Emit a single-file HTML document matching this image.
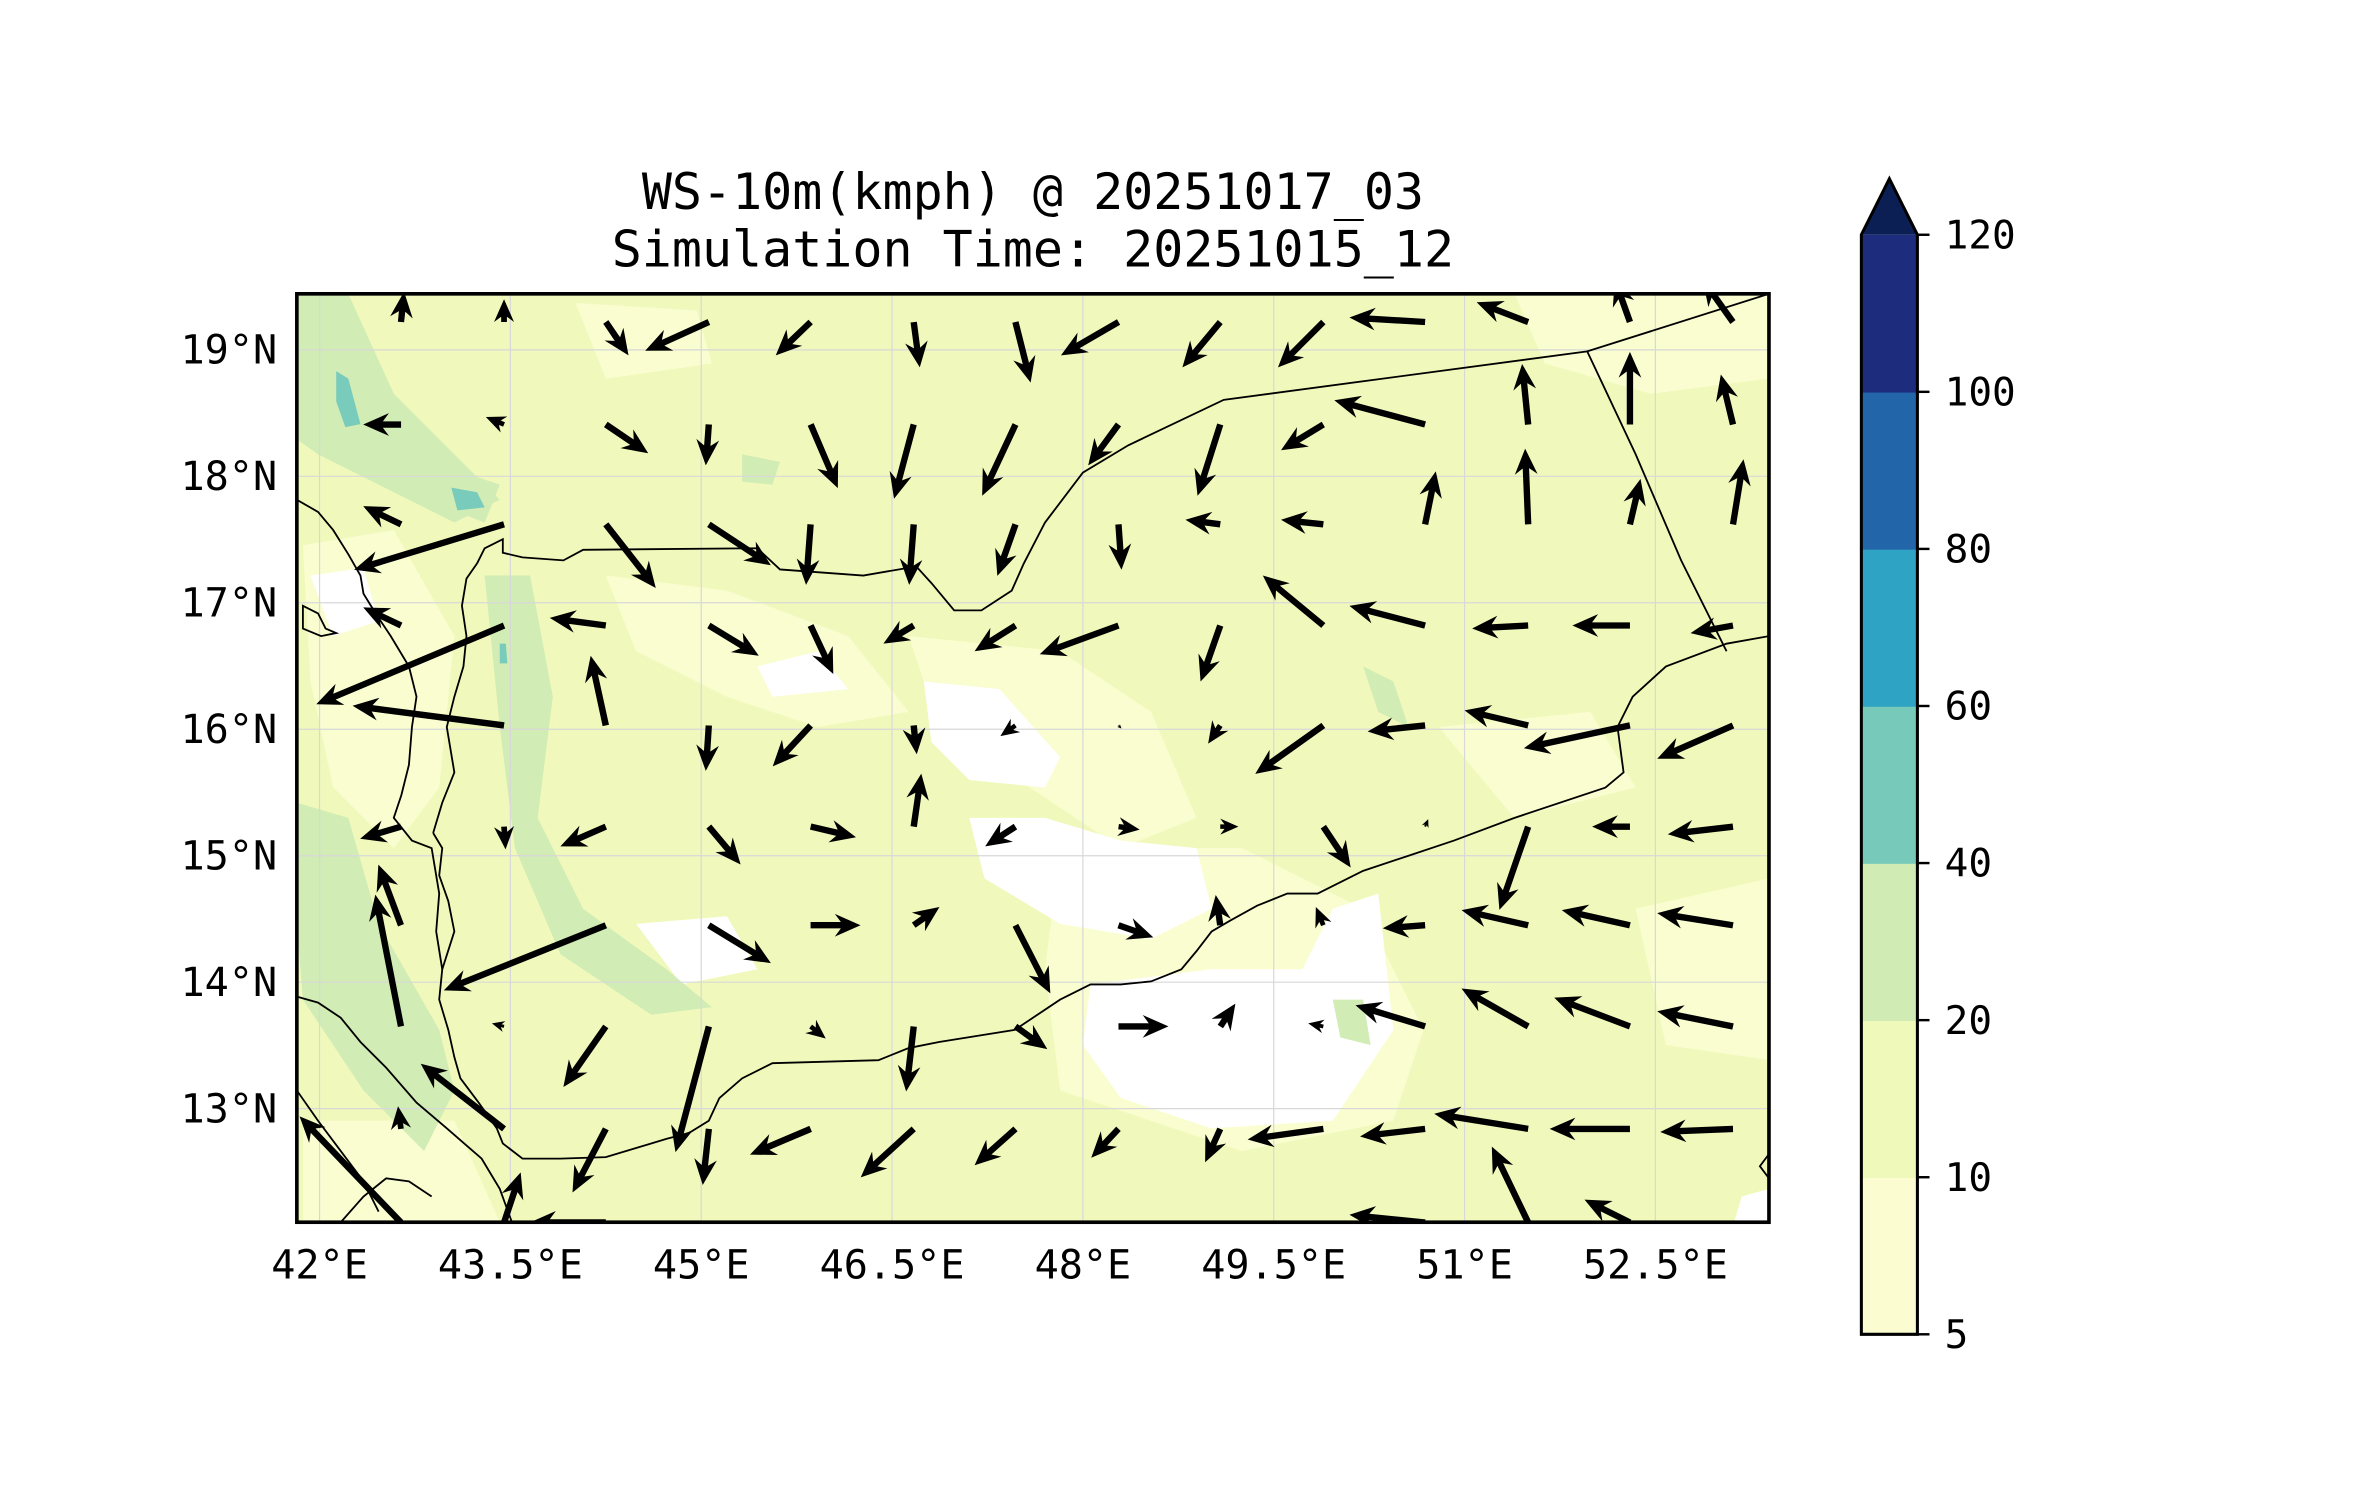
<!DOCTYPE html>
<html><head><meta charset="utf-8"><style>
html,body{margin:0;padding:0;background:#fff;}
svg{display:block;}
text{font-family:"DejaVu Sans Mono","Liberation Mono",monospace;fill:#000;}
</style></head><body>
<svg id="fig" width="2371" height="1500" viewBox="0 0 1565.5 990.4" xmlns="http://www.w3.org/2000/svg">
<defs><clipPath id="mapclip"><rect x="196" y="194" width="972" height="613"/></clipPath></defs>
<text x="682" y="138" font-size="33" text-anchor="middle">WS-10m(kmph) @ 20251017_03</text>
<text x="682" y="176" font-size="33" text-anchor="middle">Simulation Time: 20251015_12</text>
<g clip-path="url(#mapclip)">
<rect x="196" y="194" width="972" height="613" fill="#f0f9bb"/>
<g fill="#fafdd0">
<path d="M1000,194 L1168,194 L1168,250 L1090,260 L1020,240 Z"/>
<path d="M380,200 L460,205 L470,240 L400,250 Z"/>
<path d="M200,360 L260,350 L300,420 L290,520 L260,560 L220,520 L205,450 Z"/>
<path d="M400,380 L480,390 L560,420 L600,470 L540,480 L480,460 L420,430 Z"/>
<path d="M600,420 L700,430 L760,470 L790,540 L740,560 L680,520 L620,480 Z"/>
<path d="M700,560 L820,560 L900,600 L940,680 L920,740 L820,760 L700,720 L690,640 Z"/>
<path d="M950,480 L1050,470 L1080,520 L1000,540 Z"/>
<path d="M1080,600 L1168,580 L1168,700 L1100,690 Z"/>
<path d="M200,740 L300,740 L330,807 L200,807 Z"/>
</g>
<g fill="#ffffff">
<path d="M205,380 L240,375 L250,410 L220,420 Z"/>
<path d="M500,440 L540,430 L560,455 L510,460 Z"/>
<path d="M610,450 L660,455 L700,500 L690,520 L640,515 L615,490 Z"/>
<path d="M640,540 L690,540 L740,555 L790,560 L800,600 L760,620 L700,610 L650,580 Z"/>
<path d="M720,650 L800,640 L860,640 L880,600 L910,590 L920,680 L880,740 L800,745 L740,725 L715,690 Z"/>
<path d="M420,610 L480,605 L500,640 L450,650 Z"/>
<path d="M1150,790 L1168,785 L1168,807 L1145,807 Z"/>
</g>
<g fill="#d1ecb4">
<path d="M196,194 L230,194 L260,260 L330,330 L300,345 L250,320 L210,300 L196,290 Z"/>
<path d="M196,530 L230,540 L250,610 L290,680 L300,720 L280,760 L240,720 L200,660 L196,610 Z"/>
<path d="M320,380 L350,380 L365,460 L355,540 L385,600 L440,640 L470,665 L430,670 L370,630 L340,560 L330,480 Z"/>
<path d="M270,300 L330,320 L320,345 L280,330 Z"/>
<path d="M490,300 L515,305 L510,320 L490,318 Z"/>
<path d="M900,440 L920,450 L930,480 L910,470 Z"/>
<path d="M880,660 L900,660 L905,690 L885,685 Z"/>
</g>
<g fill="#79cbbb">
<path d="M222,245 L230,250 L238,280 L228,282 L222,265 Z"/>
<path d="M298,322 L315,325 L320,335 L302,337 Z"/>
<path d="M330,425 L334,425 L335,438 L330,438 Z"/>
</g>
<g id="grid" stroke="#d8d8d8" stroke-width="0.8" fill="none"></g>
<g fill="none" stroke="#000" stroke-width="1.2">
<path d="M196,330 L210,338 L220,350 L230,366 L238,380 L240,392 L248,405 L258,420 L270,440 L275,460 L272,480 L270,505 L265,525 L260,540 L272,555 L285,560 L290,590 L288,615 L292,640" />
<path d="M315,372 L320,362 L332,356 L332,365 L345,368 L372,370 L385,363 L500,362 L515,376 L570,380 L605,374 L615,385 L630,403 L648,403 L668,390 L676,372 L690,345 L715,312 L745,294 L808,264 L1048,232 L1168,194"/>
<path d="M1048,232 L1080,300 L1110,370 L1140,430"/>
<path d="M1168,420 L1140,425 L1100,440 L1078,460 L1068,480 L1072,510 L1060,520 L1000,540 L960,555 L930,565 L900,575 L870,590 L850,590 L830,598 L812,608 L800,615 L790,628 L780,640 L760,648 L740,650 L720,650 L700,660 L670,680 L620,688 L600,692 L580,700 L510,702 L490,712 L475,725 L468,740 L455,748 L440,752 L420,758 L400,764 L370,765 L345,765 L332,755 L328,745 L316,728 L304,712 L300,698 L296,680 L290,660 L292,640 L300,615 L296,595 L290,578 L292,560 L286,550"/>
<path d="M315,372 L308,382 L305,400 L308,420 L306,440 L300,460 L295,480 L300,510 L292,530 L286,550"/>
<path d="M196,658 L210,662 L225,672 L238,688 L255,705 L275,728 L295,745 L318,765 L330,785 L338,807"/>
<path d="M196,720 L210,740 L225,760 L240,780 L250,800"/>
<path d="M225,807 L240,790 L255,778 L270,780 L285,790"/>
<path d="M200,400 L210,405 L215,415 L222,418 L212,420 L200,415 Z"/>
<path d="M1168,762 L1162,770 L1168,778"/>
</g>
<g id="arrows" fill="#000"></g>
</g>
<rect x="196" y="194" width="972" height="613" fill="none" stroke="#000" stroke-width="2.4"/>
<g id="ticks"></g>
<g id="cbar"></g>
</svg>
<script>
// axis data
const lonTicks = [42, 43.5, 45, 46.5, 48, 49.5, 51, 52.5];
const lonLabels = ["42°E","43.5°E","45°E","46.5°E","48°E","49.5°E","51°E","52.5°E"];
const latTicks = [19, 18, 17, 16, 15, 14, 13];
const latLabels = ["19°N","18°N","17°N","16°N","15°N","14°N","13°N"];
// colorbar data
const cbLevels = [5, 10, 20, 40, 60, 80, 100, 120];
const cbColors = ["#fbfdd1","#eff9ba","#d0ecb4","#77c9b9","#2ea3c4","#2265a9","#1e2c7e"];
const cbExtendColor = "#0b1f55";
// quiver grid (lon/lat) and wind components
const gridLons = [42.64,43.45,44.25,45.06,45.86,46.67,47.47,48.28,49.08,49.89,50.69,51.5,52.3,53.11];
const gridLats = [19.22,18.41,17.62,16.82,16.03,15.23,14.45,13.65,12.84,12.1];
const uRows = [
[2,0,15,-42,-23,4,10,-38,-25,-30,-50,-34,-10,-20],
[-25,-12,28,-2,18,-13,-22,-20,-15,-28,-60,-4,0,-8],
[-25,-99,33,41,-3,-3,-12,2,-23,-28,7,-2,7,7],
[-25,-124,-37,33,15,-20,-27,-52,-13,-40,-50,-37,-38,-28],
[0,-100,-10,-2,-25,2,-10,2,-8,-45,-38,-42,-70,-50],
[-27,1,-30,21,30,5,-20,14,12,18,2,-19,-25,-43],
[-15,0,-107,41,33,17,23,23,-3,-5,-28,-44,-45,-50],
[-17,-8,-28,-22,10,-5,21,33,10,-10,-46,-44,-50,-50],
[-2,-55,-22,-4,-40,-35,-27,-18,-10,-50,-43,-62,-53,-48],
[-67,11,-50,0,0,0,0,0,0,0,-50,-24,-30,0]];
const vRows = [
[20,15,-22,-19,-22,-30,-40,-22,-30,-30,3,13,28,28],
[0,5,-19,-27,-42,-49,-47,-27,-47,-17,16,40,48,33],
[12,-30,-42,-27,-40,-40,-34,-30,3,3,35,50,30,43],
[12,-52,5,-20,-32,-12,-17,-19,-37,33,13,-2,0,-5],
[0,13,46,-30,-27,-19,-7,-2,-12,-32,-4,10,-15,-22],
[-8,-15,-13,-25,-7,35,-13,-2,0,-27,5,-55,0,-5],
[40,0,-43,-25,0,12,-45,-8,20,12,-2,10,10,8],
[87,2,-40,-83,-8,-43,-15,0,15,2,14,25,19,10],
[15,43,-42,-37,-17,-32,-24,-19,-22,-7,-5,10,0,-2],
[70,33,0,0,0,0,0,0,0,0,5,50,15,0]];
const windScale = 1;

const NS = "http://www.w3.org/2000/svg";
const X0 = 211, PXLON = 84, Y0 = 231, PXLAT = 83.5;
function xOf(lon){ return X0 + (lon - 42) * PXLON; }
function yOf(lat){ return Y0 + (19 - lat) * PXLAT; }

const grid = document.getElementById('grid');
lonTicks.forEach(lon => {
  const l = document.createElementNS(NS,'line');
  l.setAttribute('x1', xOf(lon)); l.setAttribute('x2', xOf(lon));
  l.setAttribute('y1', 194); l.setAttribute('y2', 807);
  
  
  grid.appendChild(l);
});
latTicks.forEach(lat => {
  const l = document.createElementNS(NS,'line');
  l.setAttribute('x1', 196); l.setAttribute('x2', 1168);
  l.setAttribute('y1', yOf(lat)); l.setAttribute('y2', yOf(lat));
  
  
  grid.appendChild(l);
});

const ticks = document.getElementById('ticks');
lonTicks.forEach((lon, i) => {
  const t = document.createElementNS(NS,'text');
  t.setAttribute('x', xOf(lon)); t.setAttribute('y', 844);
  t.setAttribute('font-size', '26.5'); t.setAttribute('text-anchor', 'middle');
  t.textContent = lonLabels[i];
  
  
  ticks.appendChild(t);
});
latTicks.forEach((lat, i) => {
  const t = document.createElementNS(NS,'text');
  t.setAttribute('x', 183); t.setAttribute('y', yOf(lat) + 9);
  t.setAttribute('font-size', '26.5'); t.setAttribute('text-anchor', 'end');
  t.textContent = latLabels[i];
  
  
  ticks.appendChild(t);
});

// arrows
const arrows = document.getElementById('arrows');
function arrowPoly(x0, y0, dx, dy){
  const L = Math.hypot(dx, dy);
  if (L < 0.5) return null;
  let sw = 2.1, hl = 17, hal = 13, hw = 7.5;
  let s = 1;
  if (L < hl) { s = L / hl; }
  const h = hl * s, ha = hal * s, w = hw * s, sh = sw * s;
  const pts = [[0,-sh],[L-ha,-sh],[L-h,-w],[L,0],[L-h,w],[L-ha,sh],[0,sh]];
  const c = dx / L, sn = dy / L;
  return pts.map(p => (x0 + p[0]*c - p[1]*sn).toFixed(1) + ',' + (y0 + p[0]*sn + p[1]*c).toFixed(1)).join(' ');
}
gridLats.forEach((lat, r) => {
  gridLons.forEach((lon, c) => {
    const u = uRows[r][c], v = vRows[r][c];
    const pts = arrowPoly(xOf(lon), yOf(lat), u * windScale, -v * windScale);
    if (!pts) return;
    const p = document.createElementNS(NS,'polygon');
    p.setAttribute('points', pts);
    
    
    arrows.appendChild(p);
  });
});

// colorbar
const cbar = document.getElementById('cbar');
const CBX = 1229, CBW = 37, CBTOP = 155, CBBOT = 881;
const bin = (CBBOT - CBTOP) / (cbLevels.length - 1);
function cbY(i){ return CBBOT - i * bin; }
cbColors.forEach((col, i) => {
  const r = document.createElementNS(NS,'rect');
  r.setAttribute('x', CBX); r.setAttribute('y', cbY(i+1));
  r.setAttribute('width', CBW); r.setAttribute('height', bin + 0.5);
  r.setAttribute('fill', col);
  
  
  cbar.appendChild(r);
});
const tri = document.createElementNS(NS,'polygon');
tri.setAttribute('points', `${CBX},${CBTOP} ${CBX+CBW/2},${CBTOP-37} ${CBX+CBW},${CBTOP}`);
tri.setAttribute('fill', cbExtendColor);


cbar.appendChild(tri);
const outline = document.createElementNS(NS,'path');
outline.setAttribute('d', `M${CBX},${CBBOT} L${CBX},${CBTOP} L${CBX+CBW/2},${CBTOP-37} L${CBX+CBW},${CBTOP} L${CBX+CBW},${CBBOT} Z`);
outline.setAttribute('fill', 'none'); outline.setAttribute('stroke', '#000'); outline.setAttribute('stroke-width', '2');


cbar.appendChild(outline);
cbLevels.forEach((lv, i) => {
  const tk = document.createElementNS(NS,'line');
  tk.setAttribute('x1', CBX+CBW); tk.setAttribute('x2', CBX+CBW+8);
  tk.setAttribute('y1', cbY(i)); tk.setAttribute('y2', cbY(i));
  tk.setAttribute('stroke', '#000'); tk.setAttribute('stroke-width', '1.6');
  
  
  cbar.appendChild(tk);
  const t = document.createElementNS(NS,'text');
  t.setAttribute('x', CBX+CBW+18); t.setAttribute('y', cbY(i) + 9);
  t.setAttribute('font-size', '26');
  t.textContent = String(lv);
  
  
  cbar.appendChild(t);
});
</script>
</body></html>
